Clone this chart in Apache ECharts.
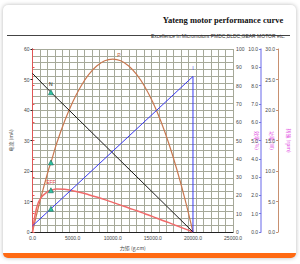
<!DOCTYPE html>
<html><head><meta charset="utf-8">
<script src="https://cdn.jsdelivr.net/npm/echarts@6/dist/echarts.min.js"></script>
<style>
html,body{margin:0;padding:0;background:#fff;overflow:hidden;}
#card{position:absolute;left:3px;top:5px;width:293px;height:248px;background:#fff;border-radius:5px;box-shadow:0 0 4px rgba(0,0,0,0.28);border-bottom:5px solid #ff6a13;}
#chart{position:absolute;left:0;top:0;width:300px;height:264px;}
</style></head><body>
<div id="card"></div><div id="chart"></div>
<script>
// torque points (x axis)
const torque = [0,500,1000,2000,2300,3000,4000,5000,6000,7000,8000,9000,10000,11000,12000,13000,14000,15000,16000,17000,18000,19000,20000];
// output power (W) – right axis 0..10
const powerW = [0,0.92,1.80,3.40,3.80,4.82,6.05,7.09,7.94,8.60,9.07,9.36,9.45,9.36,9.07,8.60,7.94,7.09,6.05,4.82,3.40,1.80,0];
// efficiency (%) – right axis 0..100
const efficiency = [0,13.0,18.4,22.4,22.8,23.5,23.3,22.6,21.6,20.4,19.1,17.7,16.2,14.7,13.1,11.6,10.0,8.4,6.7,5.1,3.4,1.7,0];
// speed – right axis 0..30
const speedT = [0,2300,20000];
const speed = [26.0,22.9,0];
// current – left axis 0..60
const currentT = [0,2300,20000,20000];
const current = [2.0,7.6,51.0,0];
// axis ticks
const xTicks = [0,5000,10000,15000,20000,25000];
const markT = 2300;

const fontF = 'Liberation Sans, Arial, sans-serif';
const cjk = '"Noto Sans CJK SC", sans-serif';
const tri = {symbol:'triangle', symbolSize:5, itemStyle:{color:'#2fc4a4', borderColor:'#17695a', borderWidth:0.6}};

function pts(xs, ys, labelText, labelColor, labelPos) {
  return xs.map((x,i) => {
    const item = {value:[x, ys[i]]};
    if (x === markT) {
      Object.assign(item, tri);
      if (labelText) item.label = {show:true, formatter:labelText, position:labelPos||'top', color:labelColor, fontSize:5, fontFamily:fontF, distance:3};
    }
    return item;
  });
}
function mp(coord, text, color, pos, off) {
  return {symbol:'circle', symbolSize:1, itemStyle:{color:'rgba(0,0,0,0)'},
    label:{show:true, position:pos||'top', color:color, fontSize:5, fontFamily:fontF, offset:off||[0,0]},
    data:[{coord:coord, value:text}]};
}

const chart = echarts.init(document.getElementById('chart'), null, {renderer:'svg'});
const axisLabelStyle = {fontSize:5, color:'#444', fontFamily:fontF};
const gridColor = '#a6a999';
chart.setOption({
  animation:false,
  title:[
    {text:'Yateng motor performance curve', left:218, top:10, textAlign:'center',
     textStyle:{fontFamily:'Liberation Serif, Times New Roman, serif', fontWeight:'bold', fontSize:8.5, color:'#111'}},
    {text:'Excellence in Micromotors PMDC,BLDC,GEAR MOTOR etc.', left:213, top:28, textAlign:'center',
     textStyle:{fontFamily:fontF, fontWeight:'normal', fontSize:5, color:'#333'}}
  ],
  graphic:[{type:'line', shape:{x1:7, y1:35.5, x2:290, y2:35.5}, style:{stroke:'#444', lineWidth:1}}],
  grid:{left:30, top:49, width:207, height:183},
  xAxis:[
    {type:'value', min:0, max:25000, interval:5000, name:'力矩 (g.cm)', nameLocation:'middle', nameGap:13,
     nameTextStyle:{fontSize:5, color:'#444', fontFamily:cjk},
     axisLine:{lineStyle:{color:'#222'}}, axisTick:{show:false}, splitLine:{show:false},
     axisLabel:Object.assign({margin:3, formatter:v=>v.toFixed(1)}, axisLabelStyle)},
    {type:'value', min:0, max:27, interval:1, show:true, axisLine:{show:false}, axisTick:{show:false}, axisLabel:{show:false},
     splitLine:{show:true, lineStyle:{color:gridColor, width:1}}}
  ],
  yAxis:[
    {type:'value', position:'left', min:0, max:60, interval:10, name:'电流 (mA)', nameLocation:'middle', nameGap:15, nameRotate:90,
     nameTextStyle:{fontSize:5, color:'#555', fontFamily:cjk},
     axisLine:{show:true, lineStyle:{color:'#222'}}, axisTick:{show:true, length:2, lineStyle:{color:'#222'}}, splitLine:{show:false},
     axisLabel:Object.assign({margin:3}, axisLabelStyle)},
    {type:'value', position:'right', offset:0, min:0, max:100, interval:10, name:'效率 (%)', nameLocation:'middle', nameGap:13, nameRotate:-90,
     nameTextStyle:{fontSize:5, color:'#e040e0', fontFamily:cjk},
     axisLine:{show:true, lineStyle:{color:'#e05555'}}, axisTick:{show:true, length:2, lineStyle:{color:'#e05555'}}, splitLine:{show:false},
     axisLabel:Object.assign({margin:3}, axisLabelStyle)},
    {type:'value', position:'right', offset:28, min:0, max:10, interval:1, name:'功率 (W)', nameLocation:'middle', nameGap:3, nameRotate:-90,
     nameTextStyle:{fontSize:5, color:'#e040e0', fontFamily:cjk},
     axisLine:{show:true, lineStyle:{color:'#9a9af0', width:1.5}}, axisTick:{show:true, inside:true, length:2, lineStyle:{color:'#7070e0'}}, splitLine:{show:false},
     axisLabel:Object.assign({margin:3, inside:true, formatter:v=>v.toFixed(1)}, axisLabelStyle)},
    {type:'value', position:'right', offset:45, min:0, max:30, interval:5, name:'转速 (rpm)', nameLocation:'middle', nameGap:5, nameRotate:-90,
     nameTextStyle:{fontSize:5, color:'#e040e0', fontFamily:cjk},
     axisLine:{show:true, lineStyle:{color:'#c89070'}}, axisTick:{show:true, inside:true, length:2, lineStyle:{color:'#c89070'}}, splitLine:{show:false},
     axisLabel:Object.assign({margin:3, inside:true, formatter:v=>v.toFixed(1)}, axisLabelStyle)},
    {type:'value', min:0, max:27, interval:1, position:'left', axisLine:{show:false}, axisTick:{show:false}, axisLabel:{show:false},
     splitLine:{show:true, lineStyle:{color:gridColor, width:1}}}
  ],
  series:[
    {name:'N', type:'line', yAxisIndex:3, symbol:'none', showSymbol:true, lineStyle:{color:'#1a1a1a', width:1}, itemStyle:{color:'#1a1a1a'},
     data:pts(speedT, speed, 'N', '#111', 'top'), z:5},
    {name:'P', type:'line', yAxisIndex:2, smooth:0.4, symbol:'none', showSymbol:true, lineStyle:{color:'#c87850', width:1.2}, itemStyle:{color:'#c87850'},
     data:pts(torque, powerW), markPoint:mp([10000, 9.45], 'P', '#c06040', 'right', [-1,-4]), z:4},
    {name:'EFF', type:'line', yAxisIndex:1, smooth:0.4, symbol:'none', showSymbol:true, lineStyle:{color:'#f06a6a', width:1.5}, itemStyle:{color:'#f06a6a'},
     data:pts(torque, efficiency, 'EFF', '#e04040', 'top'), z:4},
    {name:'I', type:'line', yAxisIndex:0, symbol:'none', showSymbol:true, lineStyle:{color:'#3a3af0', width:1}, itemStyle:{color:'#3a3af0'},
     data:pts(currentT, current), markPoint:mp([20000, 51.0], 'I', '#3a3af0', 'top', [0,0]), z:5}
  ]
});
</script>
</body></html>
